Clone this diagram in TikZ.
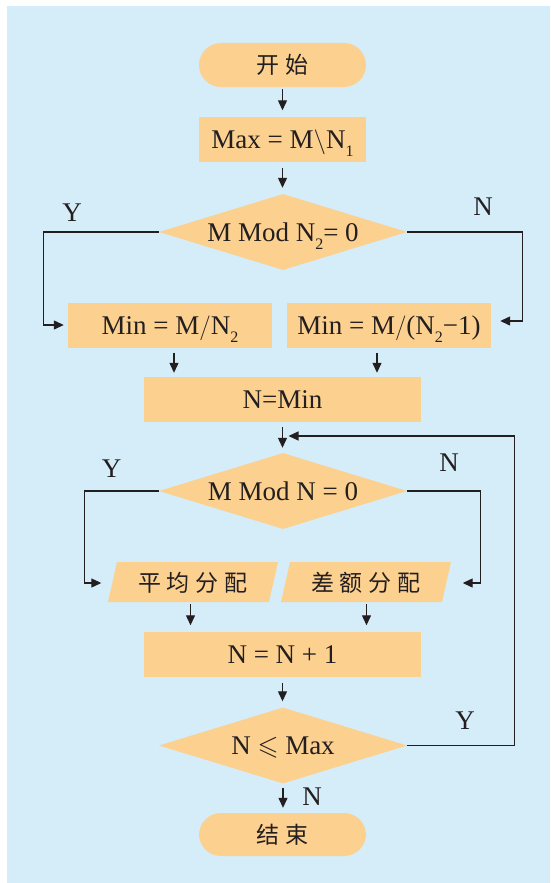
\documentclass[tikz,border=0pt]{standalone}
\usepackage{fontspec}
\usepackage{amssymb}
\setmainfont{Liberation Serif}
\newfontfamily\cjk{Noto Sans CJK SC}
\usetikzlibrary{shapes.geometric,arrows.meta,calc}

\definecolor{bgblue}{RGB}{213,237,249}
\definecolor{boxorange}{RGB}{252,208,143}
\definecolor{ink}{RGB}{35,31,32}

% subscript set low, without changing the line's depth
\newcommand\subidx[1]{\smash{\raisebox{-0.3em}{\fontsize{16}{16}\selectfont #1}}}
% Chinese label with spaced characters
\newcommand\cg{\hspace{6pt}}
\newcommand\zh[1]{{\cjk\fontsize{23}{26}\selectfont #1}}
% tall slash and backslash
\newcommand\tallslash{\ensuremath{/}}
\newcommand\tallbslash{\ensuremath{\backslash}}

\tikzset{
  base/.style={fill=boxorange, draw=none, inner sep=0pt, text=ink,
    font=\fontsize{27}{32}\selectfont, text height=18pt, text depth=0pt},
  terminal/.style={base, rectangle, rounded corners=22pt,
    minimum width=167pt, minimum height=44pt},
  procbox/.style={base, rectangle, minimum height=45pt},
  decision/.style={base, diamond, aspect=3.5,
    minimum width=248pt, minimum height=76pt},
  iobox/.style={base, trapezium, trapezium left angle=63.4,
    trapezium right angle=116.6, trapezium stretches body,
    minimum width=170pt, minimum height=40pt},
  link/.style={draw=ink, line width=1.2pt},
  arr/.style={link, -{Triangle[length=10pt,width=9pt]}},
  lbl/.style={font=\fontsize{27}{32}\selectfont, text=ink, inner sep=0pt},
}

\begin{document}
\begin{tikzpicture}[x=1pt,y=-1pt]
  \useasboundingbox (0,0) rectangle (550,883);
  \fill[white] (0,0) rectangle (550,883);
  \fill[bgblue] (7,6) rectangle (550,883);

  % nodes
  \node[terminal] (start) at (282.5,65) {\zh{开\cg 始}};
  \node[procbox, minimum width=167pt] (maxbox) at (282.5,139)
    {Max = M\tallbslash N\subidx{1}};
  \node[decision] (d1) at (283,232) {M Mod N\subidx{2}= 0};
  \node[procbox, minimum width=204pt] (bL) at (170,325) {Min = M\tallslash N\subidx{2}};
  \node[procbox, minimum width=204pt] (bR) at (389,325) {Min = M\tallslash(N\subidx{2}−1)};
  \node[procbox, minimum width=277pt] (nmin) at (282.5,399.5) {N=Min};
  \node[decision] (d2) at (283,491) {M Mod N = 0};
  \node[iobox] (pL) at (193,582) {\zh{平\cg 均\cg 分\cg 配}};
  \node[iobox] (pR) at (366,582) {\zh{差\cg 额\cg 分\cg 配}};
  \node[procbox, minimum width=277pt] (ninc) at (282.5,654) {N = N + 1};
  \node[decision] (d3) at (283,745.5) {N $\leqslant$ Max};
  \node[terminal, minimum height=43pt] (stop) at (282.5,834.5) {\zh{结\cg 束}};

  % branch labels
  \node[lbl] (y1) at (72,213) {Y};
  \node[lbl] (n1) at (483,207) {N};
  \node[lbl] (y2) at (111.5,469) {Y};
  \node[lbl] (n2) at (449,463) {N};
  \node[lbl] (y3) at (465,721) {Y};
  \node[lbl] (n3) at (312,797) {N};

  % helper points for off-centre arrows
  \path (bL.south) ++(4,0) coordinate (bLx);
  \path (bR.south) ++(-12,0) coordinate (bRx);
  \path (pL.south) ++(-2.5,0) coordinate (pLx);
  \path (pR.south) ++(0.5,0) coordinate (pRx);
  \coordinate (merge) at (282.5,436);

  % main flow
  \draw[arr, shorten <=2pt, shorten >=6pt] (start.south) -- (start.south |- maxbox.north);
  \draw[arr, shorten <=6pt, shorten >=6pt] (maxbox.south) -- (maxbox.south |- d1.north);
  \draw[arr, shorten >=4pt] (d1.west) -- ++(-115,0) |- (bL.west);
  \draw[arr, shorten >=9pt] (d1.east) -- ++(115,0) |- ([yshift=4pt]bR.east);
  \draw[arr, shorten <=5pt, shorten >=4pt] (bLx) -- (bLx |- nmin.north);
  \draw[arr, shorten <=5pt, shorten >=4pt] (bRx) -- (bRx |- nmin.north);
  \draw[arr, shorten <=5pt, shorten >=5pt] (nmin.south) -- (nmin.south |- d2.north);
  \draw[arr, shorten >=11pt] (d2.west) -- ++(-74,0) |- ([yshift=-1pt]pL.west);
  \draw[arr, shorten >=16pt] (d2.east) -- ++(73,0) |- ([yshift=-1pt]pR.east);
  \draw[arr, shorten <=2pt, shorten >=6pt] (pLx) -- (pLx |- ninc.north);
  \draw[arr, shorten <=2pt, shorten >=6pt] (pRx) -- (pRx |- ninc.north);
  \draw[arr, shorten <=6pt, shorten >=6pt] (ninc.south) -- (ninc.south |- d3.north);
  \draw[arr, shorten <=4pt, shorten >=5pt] (d3.south) -- (d3.south |- stop.north);
  % loop back while N is within range
  \draw[arr, shorten >=6pt] (d3.east) -- ++(107,0) |- (merge);
\end{tikzpicture}
\end{document}
